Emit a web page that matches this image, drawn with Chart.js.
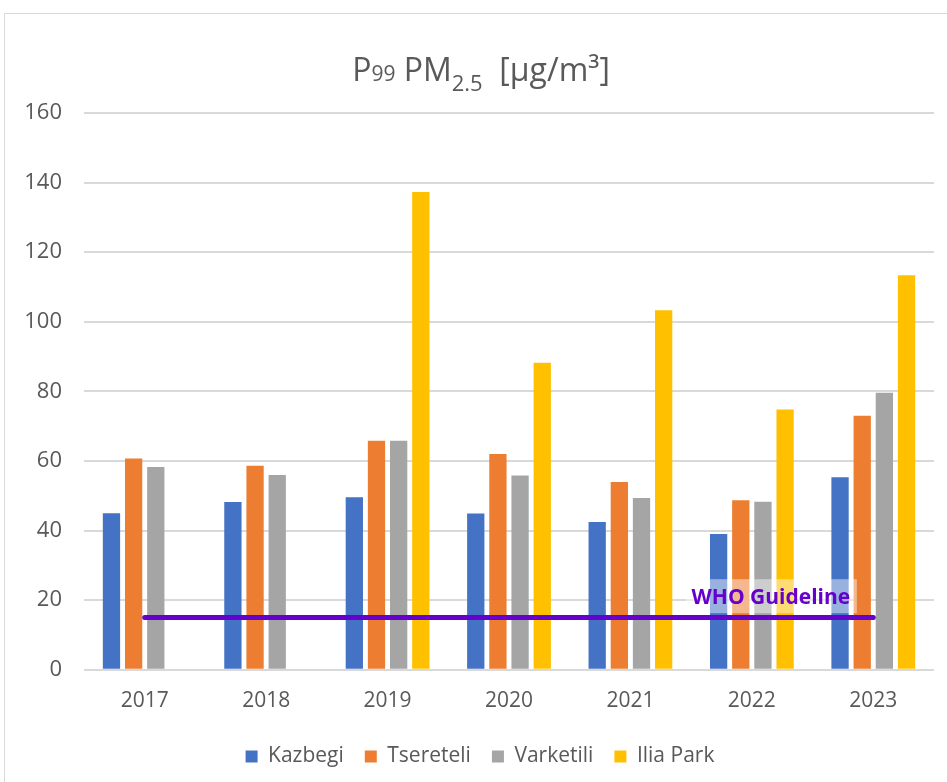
<!DOCTYPE html>
<html>
<head>
<meta charset="utf-8">
<script src="https://cdn.jsdelivr.net/npm/chart.js@4/dist/chart.umd.min.js"></script>
<style>
  html, body { margin: 0; padding: 0; background: #fff; overflow: hidden; }
  #frame { position: absolute; left: 4px; top: 13px; width: 960px; height: 780px; border: 1px solid #d9d9d9; }
</style>
</head>
<body>
<div id="frame"><canvas id="pmChart" width="960" height="780"></canvas></div>
<script>
// P99 PM2.5 by station and year
var years = ['2017', '2018', '2019', '2020', '2021', '2022', '2023'];
var kazbegi = [45, 48.2, 49.6, 44.9, 42.5, 39, 55.3];
var tsereteli = [60.7, 58.6, 65.8, 62, 54, 48.7, 73];
var varketili = [58.3, 56, 65.8, 55.8, 49.4, 48.3, 79.6];
var iliaPark = [null, null, 137.3, 88.2, 103.3, 74.8, 113.4];
var whoGuideline = [15, 15, 15, 15, 15, 15, 15];
var yTicks = [0, 20, 40, 60, 80, 100, 120, 140, 160];

var grey = '#595959';
var fontFam = "'Open Sans', sans-serif";

// title with small "99" and subscript "2.5"
var titlePlugin = {
    id: 'mixedTitle',
    afterDraw: function(chart) {
        var ctx = chart.ctx;
        var parts = [
            { t: 'P', size: 32, dy: 0 },
            { t: '99', size: 21, dy: 0 },
            { t: ' PM', size: 32, dy: 0 },
            { t: '2.5', size: 22, dy: 10 },
            { t: '  [\u00b5g/m\u00b3]', size: 32, dy: 0 }
        ];
        ctx.save();
        ctx.fillStyle = grey;
        ctx.textBaseline = 'alphabetic';
        var total = 0;
        parts.forEach(function(p) {
            ctx.font = p.size + 'px ' + fontFam;
            p.w = ctx.measureText(p.t).width;
            total += p.w;
        });
        var x = chart.width / 2 - 4 - total / 2;
        var base = 67;
        parts.forEach(function(p) {
            ctx.font = p.size + 'px ' + fontFam;
            ctx.fillText(p.t, x, base + p.dy);
            x += p.w;
        });
        ctx.restore();
    }
};

// WHO guideline label with translucent box
var whoLabel = {
    id: 'whoLabel',
    afterDatasetsDraw: function(chart) {
        var ctx = chart.ctx;
        var xs = chart.scales.x, ys = chart.scales.y;
        var cx = xs.getPixelForValue(5) + 19;
        var cy = ys.getPixelForValue(20) - 2;
        ctx.save();
        ctx.fillStyle = 'rgba(255,255,255,0.45)';
        ctx.fillRect(cx - 85, cy - 19, 171, 34);
        ctx.font = 'bold 21px ' + fontFam;
        ctx.fillStyle = '#6600cc';
        ctx.textAlign = 'center';
        ctx.textBaseline = 'middle';
        ctx.fillText('WHO Guideline', cx, cy);
        ctx.restore();
    }
};

new Chart(document.getElementById('pmChart').getContext('2d'), {
    type: 'bar',
    data: {
        labels: years,
        datasets: [
            {
                type: 'line',
                label: 'WHO Guideline',
                data: whoGuideline,
                borderColor: '#6600cc',
                borderWidth: 5,
                borderCapStyle: 'round',
                pointRadius: 0,
                order: -1
            },
            { label: 'Kazbegi', data: kazbegi, backgroundColor: '#4472c4' },
            { label: 'Tsereteli', data: tsereteli, backgroundColor: '#ed7d31' },
            { label: 'Varketili', data: varketili, backgroundColor: '#a5a5a5' },
            { label: 'Ilia Park', data: iliaPark, backgroundColor: '#ffc000' }
        ]
    },
    options: {
        responsive: false,
        animation: false,
        categoryPercentage: 0.73,
        barPercentage: 0.78,
        layout: { padding: { top: 99, left: 21, right: 31, bottom: 17 } },
        plugins: {
            title: { display: false },
            tooltip: { enabled: false },
            legend: {
                position: 'bottom',
                labels: {
                    filter: function(item) { return item.text !== 'WHO Guideline'; },
                    boxWidth: 12,
                    boxHeight: 12,
                    padding: 21,
                    color: grey,
                    font: { family: fontFam, size: 21 }
                }
            }
        },
        scales: {
            x: {
                grid: { display: false },
                border: { display: false },
                ticks: { color: grey, padding: 11, font: { family: fontFam, size: 21 } }
            },
            y: {
                min: 0,
                max: 160,
                afterBuildTicks: function(axis) {
                    axis.ticks = yTicks.map(function(v) { return { value: v }; });
                },
                afterFit: function(axis) { axis.width = 58; },
                grid: { color: '#d9d9d9', lineWidth: 2, drawTicks: false },
                border: { display: false },
                ticks: { color: grey, padding: 22, font: { family: fontFam, size: 22 } }
            }
        }
    },
    plugins: [titlePlugin, whoLabel]
});
</script>
</body>
</html>
